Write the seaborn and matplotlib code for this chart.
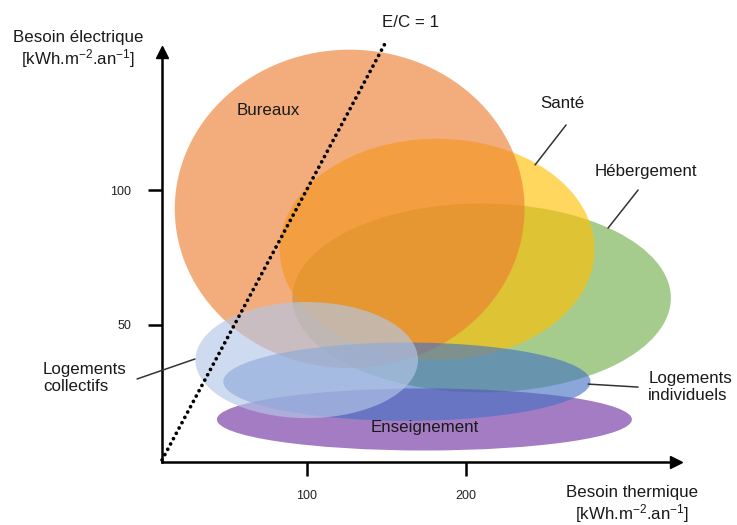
import matplotlib
matplotlib.use("Agg")
import matplotlib.pyplot as plt
from matplotlib.patches import Ellipse
import seaborn as sns
import pandas as pd

# building types: ellipse centre / size in (thermal, electric) kWh/m2/yr
sectors = ["Hébergement", "Santé", "Bureaux", "Enseignement",
           "Logements individuels", "Logements collectifs"]
center_thermal = [210, 182, 127, 174, 163, 100]
center_electric = [60, 78, 93, 15, 29, 37]
width_thermal = [238, 198, 220, 261, 231, 140]
height_electric = [70, 82, 118, 23, 29, 43]
colors = ["#70AD47", "#FFC000", "#ED7D31", "#7030A0", "#4472C4", "#B4C7E7"]
alphas = [0.62, 0.63, 0.63, 0.63, 0.62, 0.65]

# E/C = 1 reference line
ec_thermal = [9, 149]
ec_electric = [0, 154]

x_ticks = [100, 200]
y_ticks = [50, 100]

sns.set_theme(style="white")
plt.rcParams["font.family"] = ["Liberation Sans", "DejaVu Sans"]
plt.rcParams["mathtext.default"] = "regular"

fig = plt.figure(figsize=(7.37, 5.25), dpi=100)
ax = fig.add_axes([0, 0, 1, 1])
ax.set_xlim(-92.9, 370.6)
ax.set_ylim(-24.1, 170.4)

for i in range(len(sectors)):
    e = Ellipse((center_thermal[i], center_electric[i]), width_thermal[i],
                height_electric[i], facecolor=colors[i], alpha=alphas[i],
                edgecolor="none", zorder=1 + i)
    ax.add_patch(e)

ec = pd.DataFrame({"thermal": ec_thermal, "electric": ec_electric})
sns.lineplot(data=ec, x="thermal", y="electric", ax=ax, color="black",
             linewidth=2.7, zorder=10)
line = ax.lines[-1]
line.set_dashes((0.01, 1.6))
line.set_dash_capstyle("round")

# axes drawn as arrows through the origin
for s in ["top", "right"]:
    ax.spines[s].set_visible(False)
ax.spines["left"].set_position(("data", 9))
ax.spines["bottom"].set_position(("data", -0.7))
ax.spines["left"].set_bounds(-0.7, 150)
ax.spines["bottom"].set_bounds(9, 330)
for s in ["left", "bottom"]:
    ax.spines[s].set_linewidth(1.8)
    ax.spines[s].set_color("black")
ax.plot(9, 151, marker="^", ms=8, color="black", clip_on=False)
ax.plot(332, -0.7, marker=">", ms=8, color="black", clip_on=False)

ax.set_xticks(x_ticks)
ax.set_yticks(y_ticks)
ax.tick_params(axis="both", direction="out", length=10, width=1.8,
               color="black", labelsize=9, labelcolor="#222222",
               bottom=True, left=True)
ax.tick_params(axis="y", pad=12)
ax.tick_params(axis="x", pad=10)
ax.set_xlabel("")
ax.set_ylabel("")

fs = 12.2
tc = "#1a1a1a"
ax.text(165.2, 161.9, "E/C = 1", ha="center", va="center", fontsize=fs, color=tc)
ax.text(75.7, 129.6, "Bureaux", ha="center", va="center", fontsize=fs, color=tc, zorder=20)
ax.text(260.6, 132.2, "Santé", ha="center", va="center", fontsize=fs, color=tc)
ax.text(313.4, 106.7, "Hébergement", ha="center", va="center", fontsize=fs, color=tc)
ax.text(-65.8, 30.4, "Logements\ncollectifs", ha="left", va="center",
        fontsize=fs, color=tc, linespacing=1.15)
ax.text(314.8, 27, "Logements\nindividuels", ha="left", va="center",
        fontsize=fs, color=tc, linespacing=1.15)
ax.text(174, 11.9, "Enseignement", ha="center", va="center", fontsize=fs,
        color=tc, zorder=20)

leaders = [((263.1, 124.1), (243.6, 109.3)),
           ((308.4, 100.0), (289.5, 85.9)),
           ((-6.7, 30.0), (29.7, 37.4)),
           ((308.4, 27.0), (277.0, 28.1))]
for a, b in leaders:
    ax.annotate("", xy=b, xytext=a,
                arrowprops=dict(arrowstyle="-", color="#333333", lw=1.1,
                                shrinkA=0, shrinkB=0), zorder=20)

ax.text(-43.8, 151.9, "Besoin électrique\n[kWh.m$^{-2}$.an$^{-1}$]",
        ha="center", va="center", fontsize=fs, color=tc, linespacing=1.1)
ax.text(304.6, -16.7, "Besoin thermique\n[kWh.m$^{-2}$.an$^{-1}$]",
        ha="center", va="center", fontsize=fs, color=tc, linespacing=1.1)

fig.savefig("out.png", dpi=100)
